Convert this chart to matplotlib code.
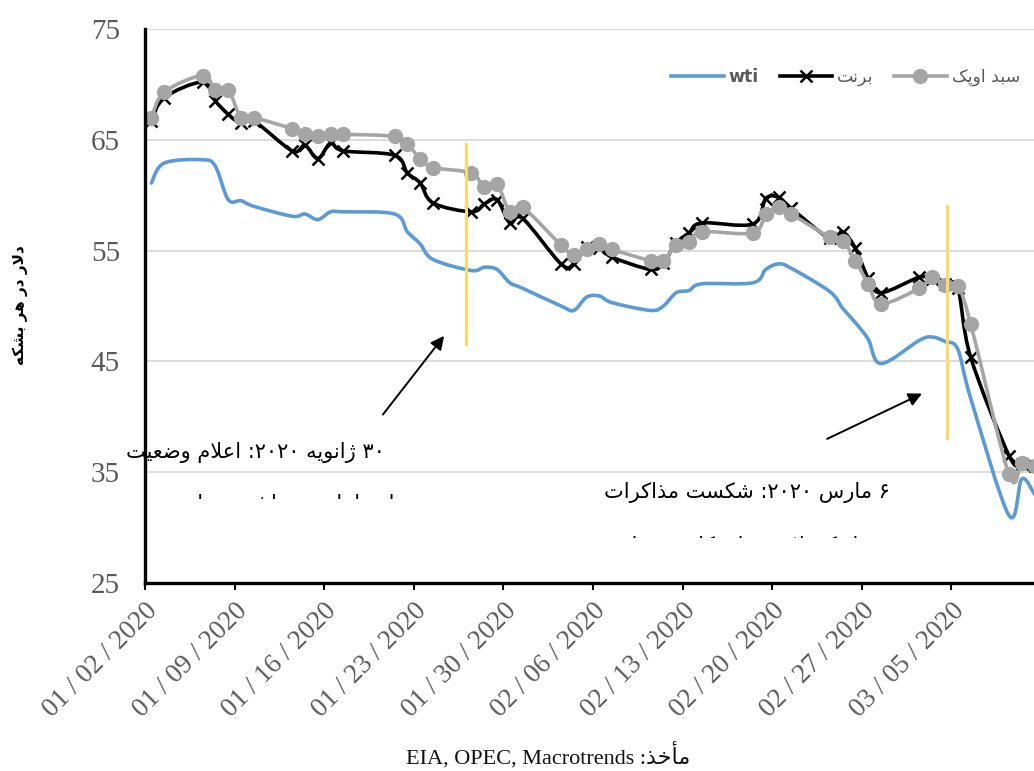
import re
import numpy as np
import matplotlib
matplotlib.use("Agg")
import matplotlib.pyplot as plt
from matplotlib.path import Path
from matplotlib.patches import PathPatch
from matplotlib.lines import Line2D
from matplotlib.transforms import Bbox

# ---- data ----
dates = ["2020-01-02", "2020-01-03", "2020-01-06", "2020-01-07", "2020-01-08",
         "2020-01-09", "2020-01-10", "2020-01-13", "2020-01-14", "2020-01-15",
         "2020-01-16", "2020-01-17", "2020-01-21", "2020-01-22", "2020-01-23",
         "2020-01-24", "2020-01-27", "2020-01-28", "2020-01-29", "2020-01-30",
         "2020-01-31", "2020-02-03", "2020-02-04", "2020-02-05", "2020-02-06",
         "2020-02-07", "2020-02-10", "2020-02-11", "2020-02-12", "2020-02-13",
         "2020-02-14", "2020-02-18", "2020-02-19", "2020-02-20", "2020-02-21",
         "2020-02-24", "2020-02-25", "2020-02-26", "2020-02-27", "2020-02-28",
         "2020-03-02", "2020-03-03", "2020-03-04", "2020-03-05", "2020-03-06",
         "2020-03-09", "2020-03-10", "2020-03-11"]

wti = [61.1, 62.9, 63.2, 62.6, 59.6, 59.5, 59.0, 58.1, 58.3, 57.8,
       58.5, 58.5, 58.3, 56.7, 55.6, 54.2, 53.2, 53.5, 53.3, 52.1,
       51.6, 50.0, 49.6, 50.8, 50.9, 50.3, 49.6, 50.0, 51.2, 51.4,
       52.0, 52.1, 53.3, 53.8, 53.4, 51.3, 49.8, 48.5, 47.0, 44.8,
       46.9, 47.2, 46.8, 46.1, 41.7, 31.1, 34.4, 33.0]

brent = [66.7, 68.8, 70.2, 68.5, 67.3, 66.5, 66.7, 64.0, 64.5, 63.3,
         64.7, 64.0, 63.6, 62.0, 61.1, 59.3, 58.5, 59.2, 59.6, 57.5,
         57.9, 53.8, 53.8, 55.3, 55.2, 54.4, 53.3, 53.9, 55.7, 56.6,
         57.5, 57.4, 59.7, 59.8, 58.8, 56.1, 56.7, 55.2, 52.5, 51.2,
         52.6, 52.4, 52.0, 51.6, 45.4, 36.5, 35.7, 35.6]

opec = [67.0, 69.3, 70.8, 69.5, 69.5, 67.0, 67.0, 66.0, 65.5, 65.3,
        65.5, 65.5, 65.3, 64.6, 63.3, 62.5, 62.0, 60.7, 61.0, 58.5,
        58.9, 55.5, 54.6, 55.1, 55.6, 55.1, 54.1, 54.1, 55.5, 55.8,
        56.7, 56.6, 58.3, 58.9, 58.3, 56.2, 55.9, 54.1, 52.0, 50.2,
        51.6, 52.6, 51.9, 51.8, 48.4, 34.8, 35.8, 35.6]

tick_labels = ["01 / 02 / 2020", "01 / 09 / 2020", "01 / 16 / 2020", "01 / 23 / 2020",
               "01 / 30 / 2020", "02 / 06 / 2020", "02 / 13 / 2020", "02 / 20 / 2020",
               "02 / 27 / 2020", "03 / 05 / 2020"]
yticks = [25, 35, 45, 55, 65, 75]

# annotation marks (days from 2 Jan, $/bbl)
event_lines = [(25.1, 46.6, 64.6), (62.65, 38.1, 59.0)]
arrows = [((18.45, 40.0), (23.5, 47.5)), ((53.1, 37.9), (60.9, 42.2))]

# ---- minimal Persian shaping (presentation forms + visual order) ----
FORMS = {
    "\u0627": (0xFE8D, 0xFE8E), "\u0623": (0xFE83, 0xFE84),
    "\u0628": (0xFE8F, 0xFE90, 0xFE91, 0xFE92), "\u067E": (0xFB56, 0xFB57, 0xFB58, 0xFB59),
    "\u062A": (0xFE95, 0xFE96, 0xFE97, 0xFE98), "\u062C": (0xFE9D, 0xFE9E, 0xFE9F, 0xFEA0),
    "\u062D": (0xFEA1, 0xFEA2, 0xFEA3, 0xFEA4), "\u062E": (0xFEA5, 0xFEA6, 0xFEA7, 0xFEA8),
    "\u062F": (0xFEA9, 0xFEAA), "\u0630": (0xFEAB, 0xFEAC),
    "\u0631": (0xFEAD, 0xFEAE), "\u0632": (0xFEAF, 0xFEB0), "\u0698": (0xFB8A, 0xFB8B),
    "\u0633": (0xFEB1, 0xFEB2, 0xFEB3, 0xFEB4), "\u0634": (0xFEB5, 0xFEB6, 0xFEB7, 0xFEB8),
    "\u0636": (0xFEBD, 0xFEBE, 0xFEBF, 0xFEC0), "\u0637": (0xFEC1, 0xFEC2, 0xFEC3, 0xFEC4),
    "\u0639": (0xFEC9, 0xFECA, 0xFECB, 0xFECC), "\u0641": (0xFED1, 0xFED2, 0xFED3, 0xFED4),
    "\u0642": (0xFED5, 0xFED6, 0xFED7, 0xFED8), "\u06A9": (0xFB8E, 0xFB8F, 0xFB90, 0xFB91),
    "\u06AF": (0xFB92, 0xFB93, 0xFB94, 0xFB95), "\u0644": (0xFEDD, 0xFEDE, 0xFEDF, 0xFEE0),
    "\u0645": (0xFEE1, 0xFEE2, 0xFEE3, 0xFEE4), "\u0646": (0xFEE5, 0xFEE6, 0xFEE7, 0xFEE8),
    "\u0648": (0xFEED, 0xFEEE), "\u0647": (0xFEE9, 0xFEEA, 0xFEEB, 0xFEEC),
    "\u06CC": (0xFBFC, 0xFBFD, 0xFBFE, 0xFBFF),
}


def rtl(s):
    s = s.replace("\u064A", "\u06CC").replace("\u0643", "\u06A9")
    out, i, n = [], 0, len(s)
    while i < n:
        c = s[i]
        if c not in FORMS:
            out.append(c)
            i += 1
            continue
        prev_join = i > 0 and s[i - 1] in FORMS and len(FORMS[s[i - 1]]) == 4
        if c == "\u0644" and i + 1 < n and s[i + 1] == "\u0627":
            out.append(chr(0xFEFC if prev_join else 0xFEFB))
            i += 2
            continue
        next_join = i + 1 < n and s[i + 1] in FORMS
        f = FORMS[c]
        if len(f) == 2:
            ch = f[1] if prev_join else f[0]
        elif prev_join and next_join:
            ch = f[3]
        elif prev_join:
            ch = f[1]
        elif next_join:
            ch = f[2]
        else:
            ch = f[0]
        out.append(chr(ch))
        i += 1
    vis = "".join(out)[::-1]
    return re.sub(r"[0-9\u06F0-\u06F9]+", lambda m: m.group(0)[::-1], vis)


# ---- plot ----
W, H = 1034, 771
fig = plt.figure(figsize=(W / 100, H / 100), dpi=100)
ax = fig.add_axes([145 / W, 1 - 583 / H, 1 - 145 / W, (583 - 29) / H])

x = (np.array(dates, dtype="datetime64[D]") - np.datetime64("2020-01-02")).astype(float) + 0.5


def smooth_path(xs, ys):
    p = np.column_stack([xs, ys])
    verts, codes = [p[0]], [Path.MOVETO]
    n = len(p)
    for i in range(n - 1):
        p0 = p[i - 1] if i > 0 else p[i]
        p3 = p[i + 2] if i + 2 < n else p[i + 1]
        verts += [p[i] + (p[i + 1] - p0) / 6, p[i + 1] - (p3 - p[i]) / 6, p[i + 1]]
        codes += [Path.CURVE4] * 3
    return Path(verts, codes)


series = [
    (wti, "#5B9BD5", None, dict()),
    (brent, "black", "x", dict(markersize=9, markeredgewidth=1.8)),
    (opec, "#A5A5A5", "o", dict(markersize=10)),
]
handles = []
for k, (vals, col, mk, mkw) in enumerate(series):
    ax.add_patch(PathPatch(smooth_path(x, vals), facecolor="none", edgecolor=col,
                           lw=2.6, capstyle="round", joinstyle="round", zorder=2 + k * 0.1))
    if mk:
        ax.plot(x, vals, linestyle="none", marker=mk, color=col, zorder=2.05 + k * 0.1, **mkw)
    handles.append(Line2D([], [], color=col, lw=2.6, marker=mk, **mkw))

for xd, y0, y1 in event_lines:
    ax.plot([xd, xd], [y0, y1], color="#FFD966", lw=2.2, zorder=5)
for tail, head in arrows:
    ax.annotate("", xy=head, xytext=tail, annotation_clip=False,
                arrowprops=dict(arrowstyle="-|>", color="black", lw=1.4, mutation_scale=20))

ax.set_xlim(0, (W - 145) / 12.8)
ax.set_ylim(25, 75)
ax.set_yticks(yticks)
ax.set_yticklabels([str(v) for v in yticks], family="Liberation Serif", fontsize=21, color="#595959")
ax.set_xticks(np.arange(0, 70, 7))
ax.set_xticklabels(tick_labels, rotation=45, ha="right", va="top", rotation_mode="anchor",
                   family="Liberation Serif", fontsize=19.5, color="#595959")
ax.tick_params(axis="y", length=0, pad=18)
ax.tick_params(axis="x", length=5, width=1.5, color="black", pad=6)
ax.yaxis.grid(True, color="#D9D9D9", lw=1.3)
ax.set_axisbelow(True)
for side in ["top", "right"]:
    ax.spines[side].set_visible(False)
for side in ["left", "bottom"]:
    ax.spines[side].set_linewidth(2.4)
    ax.spines[side].set_color("black")

leg = ax.legend(handles, ["wti", rtl("برنت"), rtl("سبد اوپک")], ncol=3, frameon=False,
                loc="center right", bbox_to_anchor=(1 - 14 / 889, 1 - 48 / 554),
                prop=dict(family="DejaVu Sans", size=12.5), handlelength=3.0,
                handletextpad=0.3, columnspacing=1.2, borderpad=0, borderaxespad=0)
for t in leg.get_texts():
    t.set_color("#595959")
leg.get_texts()[0].set_fontweight("bold")

# annotation texts (second lines are cut off by their boxes in the original)
ann = [
    ("۳۰ ژانویه ۲۰۲۰: اعلام وضعیت", 18.75, 36.8, None),
    ("اضطراری بهداشت جهانی", 19.5, 32.1, (120, 486, 420, 499)),
    ("۶ مارس ۲۰۲۰: شکست مذاکرات", 58.2, 33.2, None),
    ("اوپک پلاس برای کاهش تولید", 55.7, 28.3, (590, 528, 900, 538)),
]
for s, xd, yd, clip in ann:
    t = ax.text(xd, yd, rtl(s), ha="right", va="center", fontsize=15,
                family="DejaVu Sans", color="black", zorder=1)
    if clip:
        t.set_clip_on(True)
        t.set_clip_box(Bbox.from_extents(clip[0], H - clip[3], clip[2], H - clip[1]))
        t.set_clip_path(None)

fig.text(20 / W, 1 - 305 / H, rtl("دلار در هر بشکه"), rotation=90, ha="center", va="center",
         fontsize=11, fontweight="bold", family="DejaVu Sans")
fig.text(548 / W, 1 - 755 / H, "EIA, OPEC, Macrotrends " + rtl("مأخذ:"), ha="center", va="center",
         fontsize=16, family=["Liberation Serif", "DejaVu Sans"], color="#111111")

fig.savefig("out.png", dpi=100, facecolor="white")
